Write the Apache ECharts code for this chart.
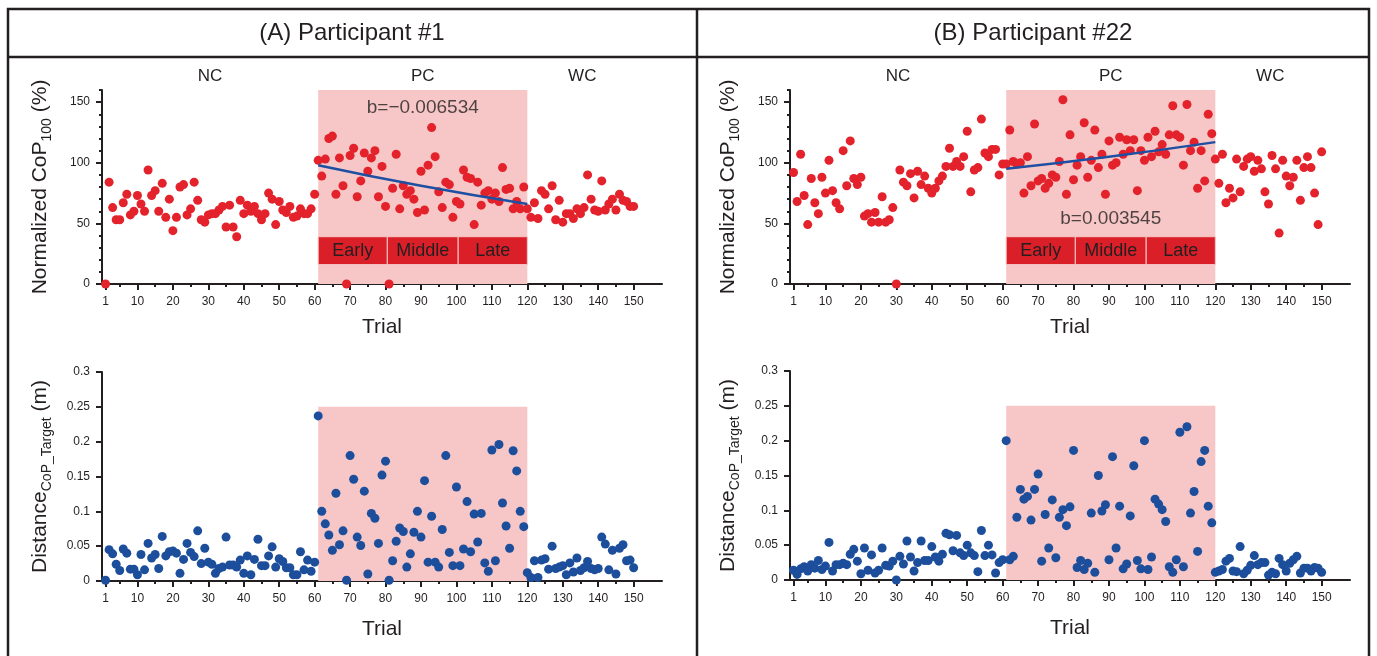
<!DOCTYPE html>
<html lang="en">
<head>
    <meta charset="UTF-8">
    <title>Participant #1 / #22 - CoP</title>
    <script src="https://cdn.jsdelivr.net/npm/echarts@6.0.0/dist/echarts.min.js"></script>
    <style>
        html, body { margin: 0; padding: 0; background: #ffffff; }
        #chart { width: 1377px; height: 656px; }
    </style>
</head>
<body>
    <div id="chart"></div>
    <script>
        // normalized CoP100 (%) per trial, participant #1
        const copA = [
            0, 84, 63, 53, 53, 67, 74, 57, 60, 73,
            66, 60, 94, 73, 77, 60, 83, 55, 70, 44,
            55, 80, 82, 57, 62, 84, 69, 53, 51, 57,
            58, 58, 61, 64, 47, 65, 47, 39, 69, 58,
            65, 60, 64, 58, 53, 58, 75, 70, 49, 68,
            61, 59, 64, 55, 56, 62, 58, 58, 62, 74,
            102, 89, 103, 120, 122, 74, 104, 81, 0, 106,
            112, 72, 85, 108, 93, 104, 110, 72, 97, 64,
            0, 79, 107, 62, 81, 74, 77, 70, 59, 93,
            61, 98, 129, 105, 76, 63, 84, 82, 55, 68,
            66, 94, 88, 87, 49, 84, 65, 75, 77, 70,
            75, 68, 96, 78, 79, 62, 68, 62, 80, 62,
            55, 67, 54, 77, 74, 62, 81, 53, 69, 51,
            58, 58, 54, 62, 58, 63, 90, 70, 61, 60,
            85, 61, 66, 70, 61, 74, 69, 68, 64, 64
        ];
        // normalized CoP100 (%) per trial, participant #22
        const copB = [
            92, 68, 107, 73, 49, 87, 67, 58, 88, 75,
            102, 77, 67, 62, 110, 81, 118, 87, 82, 88,
            56, 58, 51, 59, 51, 72, 51, 53, 63, 0,
            94, 84, 81, 91, 71, 93, 82, 89, 79, 75,
            79, 85, 89, 97, 112, 97, 101, 97, 105, 126,
            76, 94, 96, 136, 108, 105, 111, 111, 90, 99,
            99, 127, 101, 99, 100, 75, 105, 81, 132, 85,
            87, 79, 83, 90, 88, 101, 152, 74, 123, 86,
            98, 105, 133, 88, 102, 127, 96, 107, 74, 118,
            98, 100, 121, 107, 119, 110, 119, 77, 110, 102,
            121, 105, 126, 109, 115, 107, 123, 147, 123, 121,
            98, 148, 110, 117, 79, 110, 85, 140, 124, 103,
            83, 107, 67, 79, 71, 103, 76, 97, 103, 105,
            93, 102, 95, 76, 66, 106, 95, 42, 102, 89,
            81, 88, 102, 69, 96, 105, 96, 75, 49, 109
        ];
        // distance CoP - target (m), participant #1
        const distA = [
            0.001, 0.045, 0.039, 0.024, 0.015, 0.046, 0.040, 0.017, 0.017, 0.009,
            0.038, 0.016, 0.054, 0.033, 0.038, 0.018, 0.064, 0.036, 0.042, 0.043,
            0.040, 0.011, 0.031, 0.054, 0.041, 0.035, 0.072, 0.025, 0.047, 0.027,
            0.024, 0.011, 0.018, 0.020, 0.063, 0.023, 0.023, 0.020, 0.030, 0.011,
            0.036, 0.009, 0.031, 0.060, 0.022, 0.022, 0.036, 0.049, 0.020, 0.032,
            0.028, 0.019, 0.019, 0.009, 0.009, 0.042, 0.016, 0.030, 0.014, 0.027,
            0.237, 0.100, 0.082, 0.066, 0.044, 0.126, 0.052, 0.072, 0.001, 0.180,
            0.146, 0.063, 0.051, 0.129, 0.010, 0.097, 0.090, 0.054, 0.152, 0.172,
            0.001, 0.029, 0.057, 0.076, 0.071, 0.020, 0.039, 0.070, 0.100, 0.063,
            0.144, 0.027, 0.093, 0.027, 0.020, 0.074, 0.180, 0.041, 0.022, 0.135,
            0.022, 0.046, 0.114, 0.042, 0.096, 0.056, 0.097, 0.026, 0.014, 0.188,
            0.029, 0.196, 0.112, 0.079, 0.047, 0.187, 0.158, 0.100, 0.078, 0.012,
            0.005, 0.029, 0.005, 0.030, 0.032, 0.017, 0.050, 0.018, 0.020, 0.022,
            0.009, 0.026, 0.013, 0.033, 0.015, 0.019, 0.028, 0.018, 0.016, 0.018,
            0.063, 0.053, 0.016, 0.044, 0.010, 0.047, 0.052, 0.029, 0.030, 0.019
        ];
        // distance CoP - target (m), participant #22
        const distB = [
            0.014, 0.008, 0.016, 0.019, 0.013, 0.022, 0.017, 0.028, 0.015, 0.020,
            0.054, 0.013, 0.022, 0.022, 0.024, 0.022, 0.037, 0.044, 0.027, 0.009,
            0.046, 0.014, 0.036, 0.010, 0.014, 0.046, 0.021, 0.020, 0.027, 0.000,
            0.034, 0.023, 0.056, 0.033, 0.013, 0.025, 0.056, 0.028, 0.028, 0.048,
            0.033, 0.027, 0.037, 0.067, 0.065, 0.042, 0.064, 0.039, 0.035, 0.050,
            0.039, 0.035, 0.012, 0.071, 0.035, 0.050, 0.036, 0.010, 0.025, 0.029,
            0.200, 0.029, 0.034, 0.090, 0.130, 0.116, 0.120, 0.086, 0.130, 0.152,
            0.027, 0.094, 0.046, 0.115, 0.032, 0.090, 0.101, 0.078, 0.105, 0.186,
            0.018, 0.028, 0.015, 0.024, 0.096, 0.011, 0.150, 0.099, 0.108, 0.029,
            0.177, 0.046, 0.106, 0.016, 0.023, 0.092, 0.164, 0.028, 0.016, 0.200,
            0.015, 0.033, 0.116, 0.109, 0.101, 0.084, 0.019, 0.011, 0.029, 0.212,
            0.019, 0.220, 0.096, 0.127, 0.041, 0.170, 0.186, 0.106, 0.082, 0.011,
            0.013, 0.015, 0.027, 0.031, 0.013, 0.012, 0.048, 0.009, 0.014, 0.021,
            0.035, 0.022, 0.025, 0.025, 0.007, 0.011, 0.009, 0.031, 0.022, 0.013,
            0.024, 0.029, 0.034, 0.010, 0.017, 0.017, 0.013, 0.018, 0.017, 0.011
        ];
        // fitted trend in the PC block
        const fitA = [[61, 98], [90, 81], [120, 66]];
        const fitB = [[61, 95], [90, 105], [120, 117]];
        const slopeA = 'b=\u22120.006534';
        const slopeB = 'b=0.003545';

        // phases and PC sub-blocks (trial ranges)
        const phases = [['NC', 0.5, 60.5], ['PC', 61, 120], ['WC', 120.5, 150.5]];
        const blocks = [['Early', 61, 80.5], ['Middle', 80.5, 100.5], ['Late', 100.5, 120]];

        const trialTicks = [1, 10, 20, 30, 40, 50, 60, 70, 80, 90, 100, 110, 120, 130, 140, 150];
        const trialMinor = [5, 15, 25, 35, 45, 55, 65, 75, 85, 95, 105, 115, 125, 135, 145];
        const copTicks = [0, 50, 100, 150];
        const copMinor = [10, 20, 30, 40, 60, 70, 80, 90, 110, 120, 130, 140, 160];
        const distTicks = [0, 0.05, 0.1, 0.15, 0.2, 0.25, 0.3];

        const ink = '#231f20';
        const font = '"Liberation Sans", Arial, Helvetica, sans-serif';
        const pink = '#f6c7c6';
        const red = '#e3222b';
        const blue = '#1c4e9c';

        const chart = echarts.init(document.getElementById('chart'));

        const grids = [
            { left: 102, top: 90, width: 560, height: 194 },
            { left: 790, top: 90, width: 560, height: 194 },
            { left: 102, top: 372, width: 560, height: 209 },
            { left: 790, top: 371, width: 560, height: 209 }
        ];

        function xMain(g, gap) {
            return {
                gridIndex: g, type: 'value', position: 'bottom', min: 0, max: 158,
                name: 'Trial', nameLocation: 'middle', nameGap: gap,
                nameTextStyle: { fontSize: 21, color: ink, fontFamily: font },
                axisLine: { lineStyle: { color: ink, width: 2 } },
                axisTick: { customValues: trialTicks, length: 6, lineStyle: { color: ink, width: 2 } },
                axisLabel: { customValues: trialTicks, fontSize: 12, color: ink, margin: 12, fontFamily: font },
                splitLine: { show: false }
            };
        }
        function xMinor(g) {
            return {
                gridIndex: g, type: 'value', position: 'bottom', min: 0, max: 158,
                axisLine: { show: false },
                axisTick: { customValues: trialMinor, length: 3, lineStyle: { color: ink, width: 2 } },
                axisLabel: { show: false },
                splitLine: { show: false }
            };
        }
        const nameRich = {
            n: { fontSize: 21, color: ink, fontFamily: font, lineHeight: 28 },
            s: { fontSize: 14, color: ink, fontFamily: font, verticalAlign: 'bottom', lineHeight: 16 }
        };
        function yCop(g) {
            return {
                gridIndex: g, type: 'value', position: 'left', min: 0, max: 160,
                name: '{n|Normalized CoP}{s|100}{n| (%)}', nameLocation: 'middle', nameGap: 48,
                nameTextStyle: { rich: nameRich },
                axisLine: { lineStyle: { color: ink, width: 2 } },
                axisTick: { customValues: copTicks, length: 6, lineStyle: { color: ink, width: 2 } },
                axisLabel: { customValues: copTicks, fontSize: 12, color: ink, margin: 12, fontFamily: font },
                splitLine: { show: false }
            };
        }
        function yCopMinor(g) {
            return {
                gridIndex: g, type: 'value', position: 'left', min: 0, max: 160,
                axisLine: { show: false },
                axisTick: { customValues: copMinor, length: 3, lineStyle: { color: ink, width: 2 } },
                axisLabel: { show: false },
                splitLine: { show: false }
            };
        }
        function yDist(g) {
            return {
                gridIndex: g, type: 'value', position: 'left', min: 0, max: 0.3,
                name: '{n|Distance}{s|CoP_Target}{n| (m)}', nameLocation: 'middle', nameGap: 48,
                nameTextStyle: { rich: nameRich },
                axisLine: { lineStyle: { color: ink, width: 2 } },
                axisTick: { customValues: distTicks, length: 6, lineStyle: { color: ink, width: 2 } },
                axisLabel: { customValues: distTicks, fontSize: 12, color: ink, margin: 12, fontFamily: font },
                splitLine: { show: false }
            };
        }

        const withTrial = arr => arr.map((v, i) => [i + 1, v]);

        function phaseSeries(g, top, labelled) {
            const areas = phases
                .filter(p => labelled || p[0] === 'PC')
                .map(p => [
                    {
                        name: labelled ? p[0] : '',
                        xAxis: p[1], yAxis: 0,
                        itemStyle: { color: p[0] === 'PC' ? pink : 'rgba(0,0,0,0)' }
                    },
                    { xAxis: p[2], yAxis: p[0] === 'PC' ? top : 160 }
                ]);
            return {
                type: 'line', xAxisIndex: g, yAxisIndex: g, data: [], z: 1, silent: true,
                markArea: {
                    silent: true,
                    label: { show: labelled, position: 'top', distance: 5, fontSize: 17, color: ink, fontFamily: font },
                    data: areas
                }
            };
        }
        function blockSeries(g) {
            return {
                type: 'line', xAxisIndex: g, yAxisIndex: g, data: [], z: 2, silent: true,
                markArea: {
                    silent: true,
                    itemStyle: { color: '#da1f28', borderColor: '#f6c7c6', borderWidth: 1 },
                    label: { show: true, position: 'inside', fontSize: 18, color: ink, fontFamily: font },
                    data: blocks.map(b => [{ name: b[0], xAxis: b[1], yAxis: 16 }, { xAxis: b[2], yAxis: 39 }])
                }
            };
        }
        function dots(g, arr, color) {
            return {
                type: 'scatter', xAxisIndex: g, yAxisIndex: g, z: 3, symbolSize: 9,
                itemStyle: { color: color, opacity: 1 },
                data: withTrial(arr)
            };
        }
        function fitLine(g, pts) {
            return {
                type: 'line', xAxisIndex: g, yAxisIndex: g, z: 4, smooth: true, symbol: 'none',
                lineStyle: { color: '#1f4fa2', width: 2.5 }, data: pts
            };
        }
        function note(g, text, pos) {
            return {
                type: 'scatter', xAxisIndex: g, yAxisIndex: g, z: 5, symbolSize: 1,
                itemStyle: { color: 'rgba(0,0,0,0)' },
                label: { show: true, position: 'inside', formatter: text, fontSize: 19, color: ink, fontFamily: font },
                data: [pos]
            };
        }

        const option = {
            animation: false,
            backgroundColor: '#ffffff',
            textStyle: { fontFamily: font },
            grid: grids,
            xAxis: [xMain(0, 33), xMain(1, 33), xMain(2, 38), xMain(3, 38), xMinor(0), xMinor(1), xMinor(2), xMinor(3)],
            yAxis: [yCop(0), yCop(1), yDist(2), yDist(3), yCopMinor(0), yCopMinor(1)],
            series: [
                phaseSeries(0, 160, true),
                phaseSeries(1, 160, true),
                phaseSeries(2, 0.25, false),
                phaseSeries(3, 0.25, false),
                blockSeries(0),
                blockSeries(1),
                dots(0, copA, red),
                dots(1, copB, red),
                dots(2, distA, blue),
                dots(3, distB, blue),
                fitLine(0, fitA),
                fitLine(1, fitB),
                note(0, slopeA, [90.5, 145]),
                note(1, slopeB, [90.5, 54])
            ],
            graphic: [
                { type: 'polyline', shape: { points: [[8, 660], [8, 9], [1369, 9], [1369, 660]] }, style: { stroke: ink, lineWidth: 2.5, fill: null } },
                { type: 'line', shape: { x1: 8, y1: 57, x2: 1369, y2: 57 }, style: { stroke: ink, lineWidth: 2.5 } },
                { type: 'line', shape: { x1: 697, y1: 9, x2: 697, y2: 660 }, style: { stroke: ink, lineWidth: 2.5 } },
                { type: 'text', x: 352, y: 33, style: { text: '(A) Participant #1', fontSize: 24, fill: ink, font: '24px ' + font, textAlign: 'center', textVerticalAlign: 'middle' } },
                { type: 'text', x: 1033, y: 33, style: { text: '(B) Participant #22', fontSize: 24, fill: ink, font: '24px ' + font, textAlign: 'center', textVerticalAlign: 'middle' } }
            ]
        };

        chart.setOption(option);
    </script>
</body>
</html>
